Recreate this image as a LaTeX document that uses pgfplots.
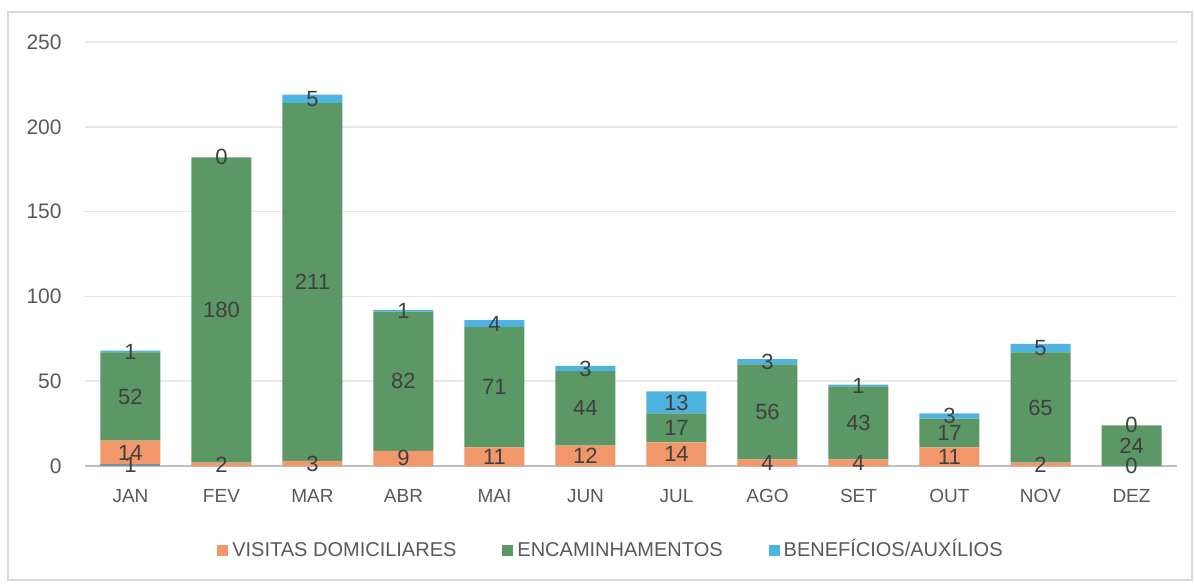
\documentclass[border=0pt]{standalone}
\usepackage{fontspec}
\setmainfont{Liberation Sans}
\usepackage{pgfplots}
\usepackage{pgfplotstable}
\pgfplotsset{compat=1.18}

\definecolor{visitas}{RGB}{241,151,106}
\definecolor{encam}{RGB}{92,152,101}
\definecolor{benef}{RGB}{78,179,225}
\definecolor{outros}{RGB}{120,144,165}
\definecolor{txt}{RGB}{89,89,89}
\definecolor{lbl}{RGB}{64,64,64}
\definecolor{grade}{RGB}{232,232,232}
\definecolor{eixo}{RGB}{191,191,191}
\definecolor{moldura}{RGB}{217,217,217}

% gray = serie sem legenda (so aparece em JAN)
\pgfplotstableread{
x mes gray org grn blu glbl
0  JAN 1 14  52  1 1
1  FEV 0  2 180  0 {}
2  MAR 0  3 211  5 {}
3  ABR 0  9  82  1 {}
4  MAI 0 11  71  4 {}
5  JUN 0 12  44  3 {}
6  JUL 0 14  17 13 {}
7  AGO 0  4  56  3 {}
8  SET 0  4  43  1 {}
9  OUT 0 11  17  3 {}
10 NOV 0  2  65  5 {}
11 DEZ 0  0  24  0 {}
}\dados

\pgfplotsset{
  base/.style={scale only axis, width=546pt, height=212pt,
    xmin=-0.5, xmax=11.5, ymin=0, ymax=250, clip=false},
  rotulo/.style={draw=none, mark=none, nodes near coords,
    point meta=explicit symbolic,
    nodes near coords style={anchor=center, inner sep=0pt, text=lbl,
      font=\fontsize{11}{13}\selectfont}},
}

\begin{document}
\begin{tikzpicture}
\begin{axis}[base,
  ybar stacked, bar width=30pt,
  axis x line*=bottom, axis y line*=left,
  y axis line style={draw=none},
  x axis line style={eixo, line width=1pt},
  major tick length=0pt,
  xtick={0,...,11},
  xticklabels from table={\dados}{mes},
  ytick={0,50,...,250},
  ymajorgrids, grid style={grade, line width=0.8pt},
  /pgf/number format/assume math mode=true,
  xticklabel style={anchor=center, inner sep=0pt, yshift=-15pt, text=txt,
    font=\fontsize{9.5}{11}\selectfont},
  yticklabel style={anchor=east, inner sep=0pt, xshift=-11.5pt, text=txt,
    font=\fontsize{10.5}{12}\selectfont},
  legend style={at={(0.4826,-0.196)}, anchor=center, draw=none, fill=none,
    legend columns=3, font=\fontsize{10}{12}\selectfont, text=txt,
    nodes={text height=7.2pt, text depth=0pt},
    /tikz/every even column/.append style={column sep=21pt}},
  legend image code/.code={\fill[#1] (-1pt,-3.25pt) rectangle (4.5pt,2.25pt);},
]
\addplot[fill=outros, draw=none, forget plot] table[x=x, y=gray] {\dados};
\addplot[fill=visitas, draw=none] table[x=x, y=org] {\dados};
\addlegendentry{VISITAS DOMICILIARES}
\addplot[fill=encam, draw=none] table[x=x, y=grn] {\dados};
\addlegendentry{ENCAMINHAMENTOS}
\addplot[fill=benef, draw=none] table[x=x, y=blu] {\dados};
\addlegendentry{BENEFÍCIOS/AUXÍLIOS}

\draw[moldura, line width=1pt] (rel axis cs:-0.0705,-0.2689) rectangle (rel axis cs:1.0137,1.0708);
\coordinate (bbsw) at (rel axis cs:-0.0778,-0.2759);
\coordinate (bbne) at (rel axis cs:1.0165,1.0991);
\end{axis}

% rotulos por cima das barras
\begin{axis}[base, hide axis]
\addplot[rotulo] table[x=x, y expr=\thisrow{gray}/2, meta=glbl] {\dados};
\addplot[rotulo] table[x=x, y expr=\thisrow{gray}+\thisrow{org}/2, meta=org] {\dados};
\addplot[rotulo] table[x=x, y expr=\thisrow{gray}+\thisrow{org}+\thisrow{grn}/2, meta=grn] {\dados};
\addplot[rotulo] table[x=x, y expr=\thisrow{gray}+\thisrow{org}+\thisrow{grn}+\thisrow{blu}/2, meta=blu] {\dados};
\end{axis}

\pgfresetboundingbox
\path[use as bounding box] (bbsw) rectangle (bbne);
\end{tikzpicture}
\end{document}
